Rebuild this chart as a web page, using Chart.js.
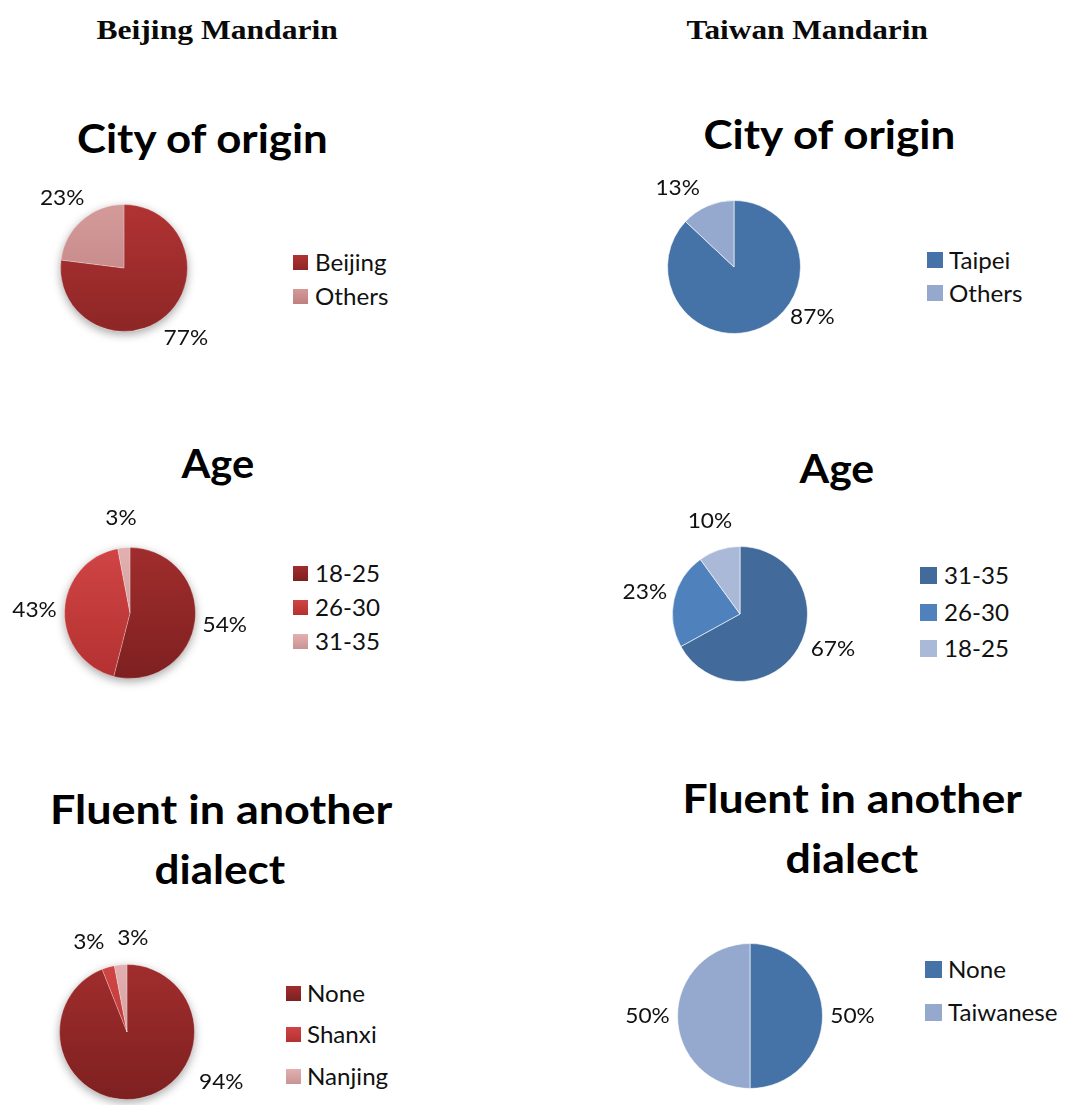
<!DOCTYPE html>
<html><head><meta charset="utf-8">
<script src="https://cdn.jsdelivr.net/npm/chart.js@4"></script>
<style>
html,body{margin:0;padding:0;background:#fff;width:1081px;height:1105px;overflow:hidden;}
#root{position:relative;width:1081px;height:1105px;}
.t{position:absolute;white-space:nowrap;transform-origin:center center;line-height:1;}
.hdr{font-family:"Liberation Serif";font-weight:bold;font-size:27px;color:#0a0a0a;}
.ttl{font-family:Lato;font-weight:bold;font-size:41px;color:#000;}
.leg{position:absolute;font-family:Lato;font-size:23px;color:#111;white-space:nowrap;line-height:1;transform:scaleX(1.05);transform-origin:left center;}
.sq{position:absolute;}
canvas{position:absolute;}
</style></head>
<body><div id="root"></div>
<script>
// ---- data ----
const groupHeaders = ['Beijing Mandarin', 'Taiwan Mandarin'];
const chartTitles = [['City of origin'], ['Age'], ['Fluent in another', 'dialect']];

const bjCityLabels = ['Beijing', 'Others'];
const bjCityValues = [77, 23];
const twCityLabels = ['Taipei', 'Others'];
const twCityValues = [87, 13];

const bjAgeLabels = ['18-25', '26-30', '31-35'];
const bjAgeValues = [54, 43, 3];
const twAgeLabels = ['31-35', '26-30', '18-25'];
const twAgeValues = [67, 23, 10];

const bjDialectLabels = ['None', 'Shanxi', 'Nanjing'];
const bjDialectValues = [94, 3, 3];
const twDialectLabels = ['None', 'Taiwanese'];
const twDialectValues = [50, 50];

// ---- styles / layout ----
const root = document.getElementById('root');

function placeText(cls, text, cx, cy, w) {
  const d = document.createElement('div');
  d.className = 't ' + cls;
  d.textContent = text;
  root.appendChild(d);
  const nw = d.offsetWidth, nh = d.offsetHeight;
  d.style.left = (cx - nw / 2) + 'px';
  d.style.top = (cy - nh / 2) + 'px';
  d.style.transform = 'scaleX(' + (w / nw) + ')';
}

const bjCityColors = [['#b13333', '#8d2626'], ['#d49a9a', '#c07f7f']];
const bjTriColors = [['#a12d2d', '#7e2020'], ['#d04444', '#b43131'], ['#e2b0b0', '#c99393']];
const twCityColors = ['#4673a7', '#95a9cf'];
const twAgeColors = ['#426b9c', '#4f81bd', '#a9b9d7'];

const panels = [
  {labels: bjCityLabels, values: bjCityValues, colors: bjCityColors, grad: true,
   cx: 124, cy: 268, r: 64, title: [[202, 137, 251]], legend: {x: 293, sq: 15, tx: 315, ys: [262, 296]},
   nudge: [[0, 0], [0, 0]]},
  {labels: twCityLabels, values: twCityValues, colors: twCityColors, grad: false,
   cx: 734, cy: 267, r: 67, title: [[829, 133, 252]], legend: {x: 927, sq: 16, tx: 949, ys: [260, 293]},
   nudge: [[40, -38], [-18, 10]]},
  {labels: bjAgeLabels, values: bjAgeValues, colors: bjTriColors, grad: true,
   cx: 130, cy: 613, r: 66, title: [[218, 462, 73]], legend: {x: 293, sq: 15, tx: 315, ys: [573, 607, 641]},
   nudge: [[0, 0], [0, 0], [0, 0]]},
  {labels: twAgeLabels, values: twAgeValues, colors: twAgeColors, grad: false,
   cx: 740, cy: 614, r: 68, title: [[837, 467, 75]], legend: {x: 920, sq: 17, tx: 944, ys: [575, 612, 648]},
   nudge: [[9, -14], [0, 0], [0, 0]]},
  {labels: bjDialectLabels, values: bjDialectValues, colors: bjTriColors, grad: true,
   cx: 127, cy: 1032, r: 68, title: [[221, 808, 342], [220, 868, 131]], legend: {x: 286, sq: 15, tx: 307, ys: [993, 1034, 1076]},
   nudge: [[76, -46], [-11, 4], [15, 3]]},
  {labels: twDialectLabels, values: twDialectValues, colors: twCityColors, grad: false,
   cx: 750, cy: 1016, r: 73, title: [[852, 797, 339], [852, 857, 133]], legend: {x: 925, sq: 17, tx: 948, ys: [969, 1012]},
   nudge: [[0, 0], [0, 0]]}
];

placeText('hdr', groupHeaders[0], 217, 30, 241);
placeText('hdr', groupHeaders[1], 807, 30, 241);

function makePie(p, idx) {
  const row = Math.floor(idx / 2);
  p.title.forEach((t, k) => placeText('ttl', chartTitles[row][k], t[0], t[1], t[2]));

  // legend
  p.labels.forEach((lab, i) => {
    const y = p.legend.ys[i];
    const s = document.createElement('div');
    s.className = 'sq';
    s.style.left = p.legend.x + 'px';
    s.style.top = (y - p.legend.sq / 2) + 'px';
    s.style.width = p.legend.sq + 'px';
    s.style.height = p.legend.sq + 'px';
    const c = p.colors[i];
    s.style.background = p.grad ? 'linear-gradient(' + c[0] + ',' + c[1] + ')' : c;
    root.appendChild(s);
    const t = document.createElement('div');
    t.className = 'leg';
    t.textContent = lab;
    root.appendChild(t);
    t.style.left = p.legend.tx + 'px';
    t.style.top = (y - t.offsetHeight / 2) + 'px';
  });

  const W = 320, H = 280;
  const cv = document.createElement('canvas');
  cv.width = W; cv.height = H;
  cv.style.left = (p.cx - W / 2) + 'px';
  cv.style.top = (p.cy - H / 2) + 'px';
  cv.style.width = W + 'px'; cv.style.height = H + 'px';
  root.appendChild(cv);

  const bg = p.grad ? (ctx) => {
    const ch = ctx.chart, a = ch.chartArea;
    const c = p.colors[ctx.dataIndex];
    if (!a) return c[0];
    const g = ch.ctx.createLinearGradient(0, a.top, 0, a.bottom);
    g.addColorStop(0, c[0]); g.addColorStop(1, c[1]);
    return g;
  } : p.colors;

  const shadowPlugin = {
    id: 'pieShadow',
    beforeDatasetsDraw(chart) {
      if (!p.grad) return;
      const arc = chart.getDatasetMeta(0).data[0];
      const ctx = chart.ctx;
      ctx.save();
      ctx.beginPath();
      ctx.arc(arc.x, arc.y, arc.outerRadius, 0, Math.PI * 2);
      ctx.shadowColor = 'rgba(0,0,0,0.35)';
      ctx.shadowBlur = 10;
      ctx.shadowOffsetY = 3;
      ctx.fillStyle = '#fff';
      ctx.fill();
      ctx.restore();
    }
  };
  const labelPlugin = {
    id: 'pctLabels',
    afterDatasetsDraw(chart) {
      const meta = chart.getDatasetMeta(0);
      const vals = chart.data.datasets[0].data;
      const ctx = chart.ctx;
      meta.data.forEach((arc, i) => {
        const pr = arc.getProps(['x', 'y', 'startAngle', 'endAngle', 'outerRadius'], true);
        const m = (pr.startAngle + pr.endAngle) / 2;
        const d = pr.outerRadius + 30;
        const n = p.nudge[i] || [0, 0];
        const lx = pr.x + Math.cos(m) * d + n[0], ly = pr.y + Math.sin(m) * d + n[1];
        ctx.save();
        ctx.translate(lx, ly);
        ctx.scale(1.08, 1);
        ctx.font = '21px Lato';
        ctx.fillStyle = '#111';
        ctx.textAlign = 'center';
        ctx.textBaseline = 'middle';
        ctx.fillText(vals[i] + '%', 0, 0);
        ctx.restore();
      });
    }
  };

  new Chart(cv, {
    type: 'pie',
    data: {labels: p.labels, datasets: [{data: p.values, backgroundColor: bg,
      borderColor: p.grad ? 'rgba(255,255,255,0.25)' : 'rgba(255,255,255,0.6)', borderWidth: 1}]},
    options: {
      responsive: false, animation: false, events: [],
      layout: {padding: {left: W / 2 - p.r, right: W / 2 - p.r, top: H / 2 - p.r, bottom: H / 2 - p.r}},
      plugins: {legend: {display: false}, tooltip: {enabled: false}, title: {display: false}}
    },
    plugins: [shadowPlugin, labelPlugin]
  });
}

panels.forEach(makePie);
</script>
</body></html>
